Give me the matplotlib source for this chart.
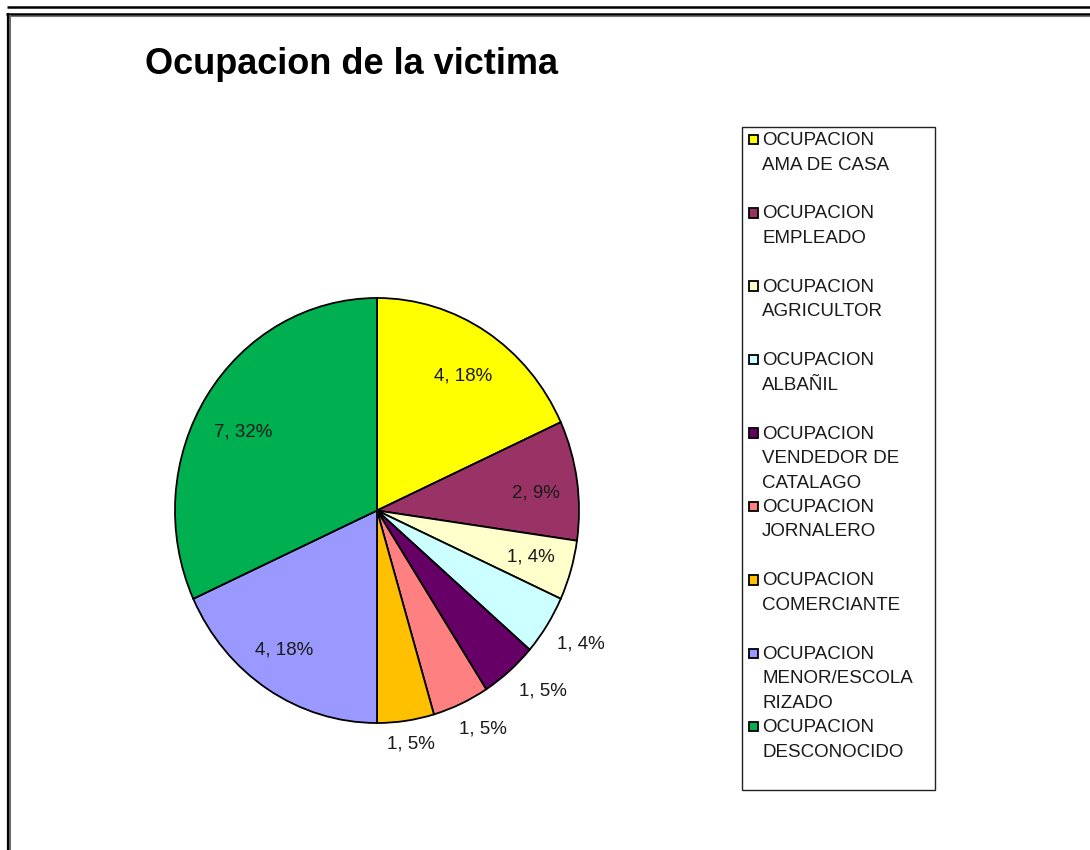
import numpy as np
import matplotlib
matplotlib.use("Agg")
import matplotlib.pyplot as plt
from matplotlib.lines import Line2D
from matplotlib.patches import Rectangle

plt.rcParams['font.family'] = ['Liberation Sans', 'DejaVu Sans']

# data
categories = ["OCUPACION\nAMA DE CASA", "OCUPACION\nEMPLEADO", "OCUPACION\nAGRICULTOR",
              "OCUPACION\nALBAÑIL", "OCUPACION\nVENDEDOR DE\nCATALAGO", "OCUPACION\nJORNALERO",
              "OCUPACION\nCOMERCIANTE", "OCUPACION\nMENOR/ESCOLA\nRIZADO", "OCUPACION\nDESCONOCIDO"]
values = [4, 2, 1, 1, 1, 1, 1, 4, 7]
percents = [18, 9, 4, 4, 5, 5, 5, 18, 32]
colors = ['#FFFF00', '#993366', '#FFFFCC', '#CCFFFF', '#660066',
          '#FF8080', '#FFC000', '#9999FF', '#00B050']

# label placement (radius, angle shift in degrees from wedge middle)
label_r = [0.764, 0.792, 0.794, 1.19, 1.179, 1.154, 1.112, 0.802, 0.758]
label_shift = [-1.4, -2.3, 0.3, 0.8, 3.1, 2.5, 0.6, -2.4, 3.6]

W, H = 1090, 850

def fx(x):
    return x / W

def fy(y):
    return 1 - y / H

fig = plt.figure(figsize=(W / 100, H / 100), dpi=100)

# pie
ax = fig.add_axes([fx(175), fy(723), 404 / W, 425 / H])
wedges, _ = ax.pie(values, colors=colors, startangle=90, counterclock=False,
                   wedgeprops=dict(edgecolor='black', linewidth=1.3))
ax.set_aspect('auto')
ax.set_xlim(-1, 1)
ax.set_ylim(-1, 1)
for w in wedges:
    w.set_clip_on(False)

for w, v, p, r, s in zip(wedges, values, percents, label_r, label_shift):
    mid = np.radians((w.theta1 + w.theta2) / 2 + s)
    ax.text(r * np.cos(mid), r * np.sin(mid), f"{v}, {p}%",
            ha='center', va='center', fontsize=13.5, color='#1a1a1a', clip_on=False)

# title
fig.text(fx(145), fy(74), "Ocupacion de la victima", fontsize=26,
         fontweight='bold', ha='left', va='baseline', color='black')

# legend drawn by hand to copy the spacing of the original
fig.add_artist(Rectangle((fx(741.5), fy(790)), 193 / W, 663 / H, transform=fig.transFigure,
                         facecolor='white', edgecolor='#222222', linewidth=1))
entry_step = 73.4
line_step = 24.5
for i, (cat, c) in enumerate(zip(categories, colors)):
    base = 145 + i * entry_step
    fig.add_artist(Rectangle((fx(748.5), fy(base - 0.8)), 9.5 / W, 9.5 / H,
                             transform=fig.transFigure, facecolor=c,
                             edgecolor='black', linewidth=1.3))
    for k, line in enumerate(cat.split("\n")):
        fig.text(fx(762), fy(base + k * line_step), line, fontsize=13.5,
                 ha='left', va='baseline', color='#1a1a1a')

# page frame lines
def hline(y, x0, x1, lw, col):
    fig.add_artist(Line2D([fx(x0), fx(x1)], [fy(y), fy(y)], transform=fig.transFigure,
                          color=col, linewidth=lw, solid_capstyle='butt'))

def vline(x, y0, y1, lw, col):
    fig.add_artist(Line2D([fx(x), fx(x)], [fy(y0), fy(y1)], transform=fig.transFigure,
                          color=col, linewidth=lw, solid_capstyle='butt'))

hline(6.5, 7, W, 1.8, 'black')
hline(13.5, 6, W, 1.8, 'black')
hline(15.5, 9, W, 0.8, '#777777')
vline(7.5, 12.5, H, 1.6, 'black')
vline(10, 14.5, H, 1.4, '#666666')

fig.savefig("out.png", dpi=100)
